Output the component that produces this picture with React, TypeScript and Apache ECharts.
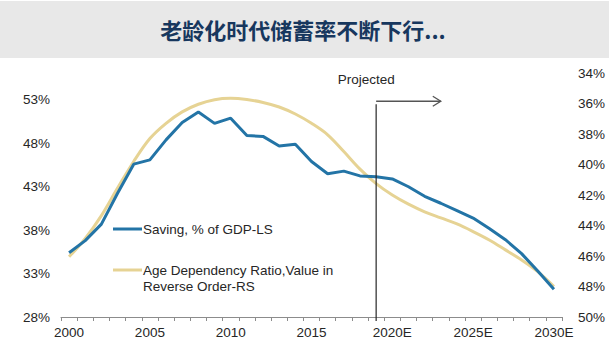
import React, { useEffect, useRef } from "react";
import * as echarts from "echarts";

const years = [
  "2000", "2001", "2002", "2003", "2004", "2005", "2006", "2007", "2008", "2009",
  "2010", "2011", "2012", "2013", "2014", "2015", "2016", "2017", "2018", "2019",
  "2020E", "2021E", "2022E", "2023E", "2024E", "2025E", "2026E", "2027E", "2028E", "2029E",
  "2030E",
];

// Saving, % of GDP (left axis)
const saving = [
  35.4, 36.8, 38.7, 42.25, 45.6, 46.1, 48.4, 50.4, 51.6, 50.3,
  50.9, 48.9, 48.8, 47.7, 47.9, 45.9, 44.5, 44.8, 44.25, 44.15,
  43.9, 43.0, 41.9, 41.1, 40.25, 39.4, 38.2, 36.9, 35.3, 33.3,
  31.2,
];

// Age dependency ratio (right axis, reversed)
const ageDep = [
  46.05, 44.85, 43.35, 41.55, 39.8, 38.3, 37.3, 36.55, 36.05, 35.75,
  35.66, 35.74, 35.93, 36.23, 36.69, 37.3, 38.05, 39.15, 40.3, 41.25,
  42.0, 42.6, 43.1, 43.5, 43.9, 44.4, 44.95, 45.6, 46.26, 47.03,
  48.0,
];

const title = "老龄化时代储蓄率不断下行...";
const savingName = "Saving, % of GDP-LS";
const ageName = "Age Dependency Ratio,Value in\nReverse Order-RS";
const projectedLabel = "Projected";
const projectedStart = "2019";
const arrowEnd = "2023E";

const FONT = "'Liberation Sans', Arial, sans-serif";
const BLUE = "#2374a6";
const TAN = "#e6d394";

export default function App() {
  const ref = useRef<HTMLDivElement>(null);
  useEffect(() => {
    if (!ref.current) return;
    const chart = echarts.init(ref.current, undefined, { renderer: "svg" });
    chart.setOption({
      animation: false,
      backgroundColor: "#ffffff",
      grid: { left: 61, right: 47, top: 73, bottom: 40 },
      xAxis: {
        type: "category",
        data: years,
        boundaryGap: true,
        axisLine: { lineStyle: { color: "#8c8c8c", width: 1 } },
        axisTick: { show: true, interval: 0, length: 4, lineStyle: { color: "#8c8c8c" } },
        axisLabel: {
          interval: 4,
          color: "#262626",
          fontFamily: FONT,
          fontSize: 13.5,
          margin: 8,
        },
        splitLine: { show: false },
      },
      yAxis: [
        {
          type: "value",
          min: 28,
          max: 56.1,
          interval: 5,
          axisLine: { show: false },
          axisTick: { show: false },
          splitLine: { show: false },
          axisLabel: {
            showMaxLabel: false,
            color: "#262626",
            fontFamily: FONT,
            fontSize: 13.5,
            margin: 11,
            formatter: (v: number) => `${Math.round(v)}%`,
          },
        },
        {
          type: "value",
          inverse: true,
          min: 34,
          max: 50,
          interval: 2,
          position: "right",
          axisLine: { show: false },
          axisTick: { show: false },
          splitLine: { show: false },
          axisLabel: {
            color: "#262626",
            fontFamily: FONT,
            fontSize: 13.5,
            margin: 16,
            formatter: (v: number) => `${Math.round(v)}%`,
          },
        },
      ],
      series: [
        {
          name: ageName,
          type: "line",
          yAxisIndex: 1,
          data: ageDep,
          smooth: 0.35,
          symbol: "none",
          lineStyle: { color: TAN, width: 3 },
          z: 2,
        },
        {
          name: savingName,
          type: "line",
          yAxisIndex: 0,
          data: saving,
          symbol: "none",
          lineStyle: { color: BLUE, width: 3 },
          z: 3,
        },
      ],
    });

    const top = chart.convertToPixel({ xAxisIndex: 0, yAxisIndex: 0 }, [projectedStart, 52.5]) as number[];
    const bottom = chart.convertToPixel({ xAxisIndex: 0, yAxisIndex: 0 }, [projectedStart, 28]) as number[];
    const arrowY = (chart.convertToPixel({ xAxisIndex: 0, yAxisIndex: 0 }, [projectedStart, 52.85]) as number[])[1];
    const arrowX = (chart.convertToPixel({ xAxisIndex: 0, yAxisIndex: 0 }, [arrowEnd, 52.85]) as number[])[0];
    const lx = top[0];

    chart.setOption({
      graphic: [
        {
          type: "rect",
          shape: { x: 0, y: 1, width: 609, height: 57 },
          style: { fill: "#e8e8e8" },
          silent: true,
          z: 0,
        },
        {
          type: "text",
          x: 303,
          y: 29,
          style: {
            text: title,
            fill: "#17375e",
            font: "bold 22px 'Noto Sans CJK SC', sans-serif",
            align: "center",
            verticalAlign: "middle",
          },
        },
        // Projected divider
        {
          type: "line",
          shape: { x1: lx, y1: top[1], x2: lx, y2: bottom[1] + 4 },
          style: { stroke: "#262626", lineWidth: 1.2 },
          z: 10,
        },
        {
          type: "line",
          shape: { x1: lx, y1: arrowY, x2: arrowX, y2: arrowY },
          style: { stroke: "#555555", lineWidth: 1.5 },
          z: 10,
        },
        {
          type: "polyline",
          shape: { points: [[arrowX - 8, arrowY - 5], [arrowX, arrowY], [arrowX - 8, arrowY + 5]] },
          style: { stroke: "#555555", lineWidth: 1.3, fill: "none" },
          z: 10,
        },
        {
          type: "text",
          x: lx - 10,
          y: 79,
          style: {
            text: projectedLabel,
            fill: "#262626",
            font: `13.5px ${FONT}`,
            align: "center",
            verticalAlign: "middle",
          },
        },
        // Legend
        {
          type: "line",
          shape: { x1: 113, y1: 229, x2: 142, y2: 229 },
          style: { stroke: BLUE, lineWidth: 3 },
        },
        {
          type: "text",
          x: 143,
          y: 229,
          style: {
            text: savingName,
            fill: "#262626",
            font: `13.5px ${FONT}`,
            verticalAlign: "middle",
          },
        },
        {
          type: "line",
          shape: { x1: 113, y1: 270, x2: 142, y2: 270 },
          style: { stroke: TAN, lineWidth: 3 },
        },
        {
          type: "text",
          x: 143,
          y: 262,
          style: {
            text: ageName,
            fill: "#262626",
            font: `13.5px ${FONT}`,
            lineHeight: 16,
            verticalAlign: "top",
          },
        },
      ],
    });
    return () => chart.dispose();
  }, []);
  return (
    <div
      ref={ref}
      style={{ position: "absolute", left: 0, top: 0, width: 609, height: 357 }}
    />
  );
}
